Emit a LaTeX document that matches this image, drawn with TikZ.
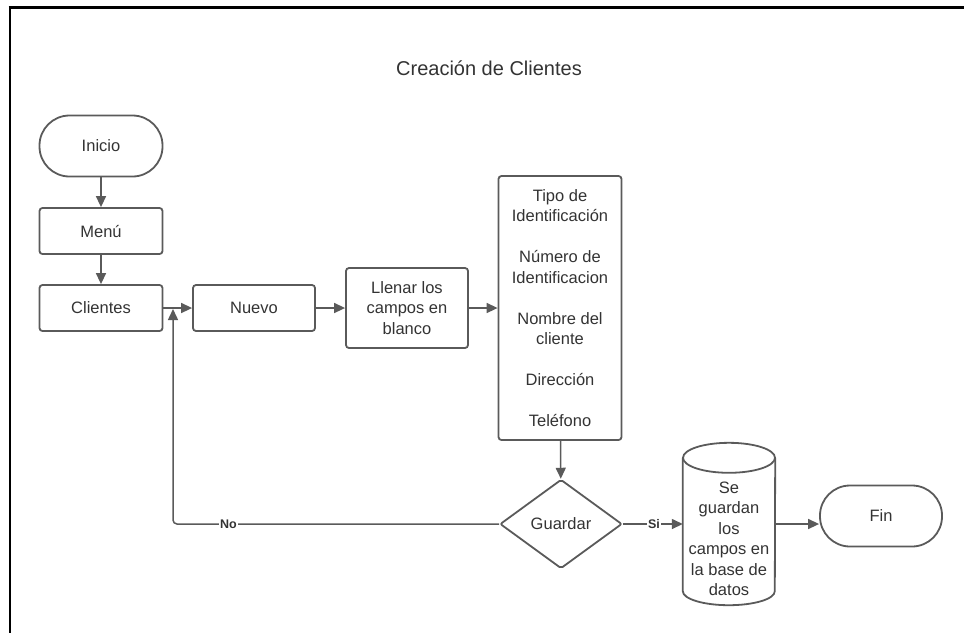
\documentclass[tikz,border=0pt]{standalone}
\usepackage{fontspec}
\setmainfont{Liberation Sans}
\usetikzlibrary{arrows.meta,shapes.geometric}
\definecolor{edgegray}{HTML}{5A5A5A}
\definecolor{txtgray}{HTML}{333333}

\begin{document}
\begin{tikzpicture}[x=1pt,y=-1pt,
  box/.style={draw=edgegray, line width=1.8pt, rounded corners=3pt, align=center, text=txtgray, font=\fontsize{16.5}{20.5}\selectfont, inner sep=2pt},
  term/.style={box, rounded corners=30pt, minimum width=123pt, minimum height=61pt},
  proc/.style={box, minimum width=123pt, minimum height=46pt},
  decision/.style={box, diamond, rounded corners=2pt, aspect=1.37, minimum width=122pt, minimum height=89pt},
  dbframe/.style={minimum width=92pt, minimum height=162pt, inner sep=0pt},
  cyl/.style={draw=edgegray, line width=1.8pt},
  txt/.style={align=center, text=txtgray, font=\fontsize{16.5}{20.5}\selectfont, inner sep=0pt},
  link/.style={draw=edgegray, line width=1.5pt, -{Triangle[length=11pt,width=10pt]}},
  lbl/.style={fill=white, text=txtgray, font=\bfseries\fontsize{12.5}{14}\selectfont, inner sep=1pt}]
\useasboundingbox (0,0) rectangle (964,633);
\draw[black, line width=3pt] (8.5,7) -- (964,7);
\draw[black, line width=2pt] (10,7) -- (10,633);
\node[font=\fontsize{20}{24}\selectfont, text=txtgray] (titulo) at (489,68) {Creación de Clientes};
\node[term] (inicio) at (101,146) {Inicio};
\node[proc] (menu) at (101,231) {Menú};
\node[proc] (clientes) at (101,308) {Clientes};
\node[proc, minimum width=122pt] (nuevo) at (254,308) {Nuevo};
\node[proc, minimum width=122pt, minimum height=80pt] (llenar) at (407,308) {Llenar los\\campos en\\blanco};
\node[proc, minimum height=264pt] (campos) at (560,308) {Tipo de\\Identificación\\[20.5pt]Número de\\Identificacion\\[20.5pt]Nombre del\\cliente\\[20.5pt]Dirección\\[20.5pt]Teléfono};
\node[decision] (guardar) at (561,524) {Guardar};
\node[dbframe] (bd) at (729,524) {};
\draw[cyl] (bd.north) ++(0,15) ellipse [x radius=46pt, y radius=15pt];
\draw[cyl] ([yshift=-15pt]bd.north west) -- ([yshift=14pt]bd.south west) arc[start angle=180, end angle=360, x radius=46pt, y radius=14pt] -- ([yshift=-15pt]bd.north east);
\node[txt] (bdtxt) at (729,539) {Se\\guardan\\los\\campos en\\la base de\\datos};
\node[term, minimum width=122pt] (fin) at (881,516) {Fin};
\draw[link] (inicio) -- (menu);
\draw[link] (menu) -- (clientes);
\draw[link] (clientes) -- (nuevo);
\draw[link] (nuevo) -- (llenar);
\draw[link] (llenar) -- (campos);
\draw[link] (campos) -- (guardar);
\coordinate (merge) at (173,308);
\draw[link, rounded corners=4pt] (guardar.west) -- node[lbl, pos=0.83] (no) {No} (guardar.west -| merge) -- ([yshift=-1pt]merge);
\draw[link] (guardar) -- node[lbl, pos=0.52] (si) {Si} (bd);
\draw[link] (bd.east) -- (bd.east -| fin.west);
\end{tikzpicture}
\end{document}
